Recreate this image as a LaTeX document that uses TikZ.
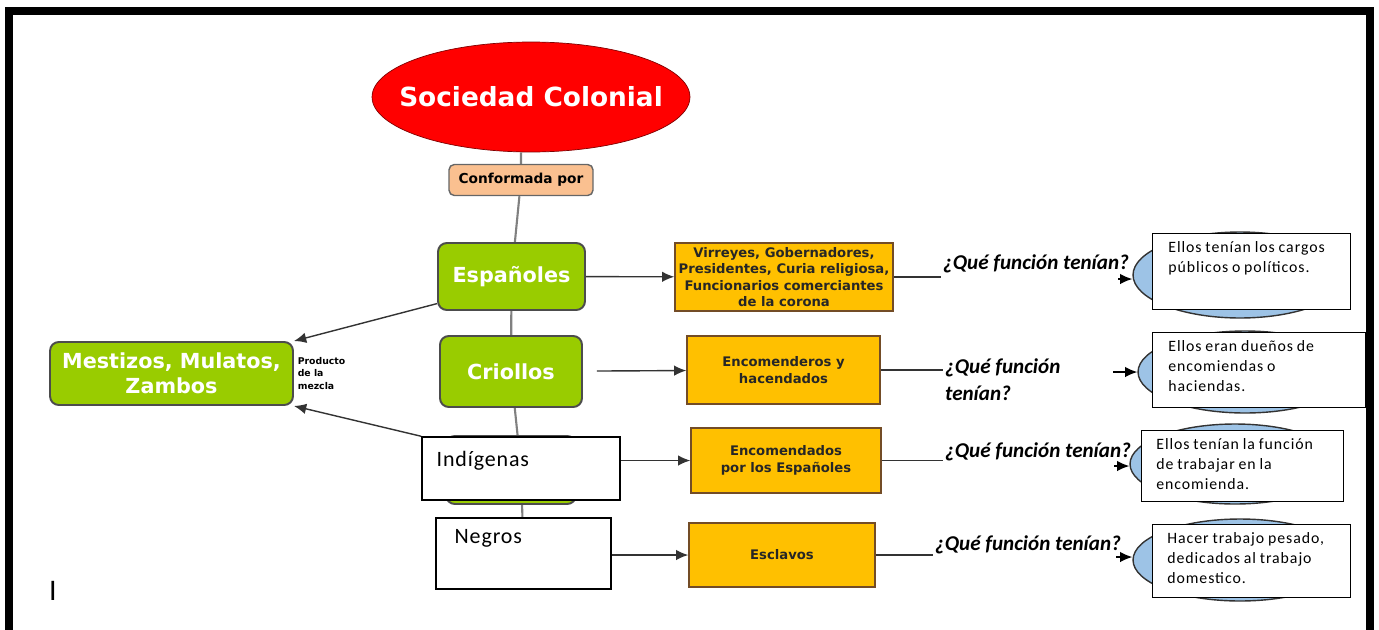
\documentclass[tikz,border=0pt]{standalone}
\usepackage{fontspec}
\newfontfamily\verd{DejaVu Sans}
\newfontfamily\cali{Carlito}
\newfontfamily\calisp[LetterSpace=6,WordSpace=0.85]{Carlito}
\newfontfamily\calind[LetterSpace=4]{Carlito}
\usepackage{tikz}
\usetikzlibrary{positioning,shapes.geometric,backgrounds,arrows.meta}
\usepackage{color}
\definecolor{rojo}{HTML}{FF0000}
\definecolor{verde}{HTML}{99CC00}
\definecolor{amarillo}{HTML}{FFC000}
\definecolor{durazno}{HTML}{FAC090}
\definecolor{celeste}{HTML}{9DC3E6}
\definecolor{linea}{HTML}{808080}
\tikzset{
	grupo/.style={draw=black!70, line width=1.1pt, fill=verde, rounded corners=5pt, text=white, font=\verd\bfseries\fontsize{11.8}{14}\selectfont, align=center},
	cargo/.style={draw=brown!60!black, line width=0.8pt, fill=amarillo, text=black!85, font=\verd\bfseries\fontsize{7.5}{9.4}\selectfont, align=center, inner sep=2pt},
	blanco/.style={draw, line width=0.8pt, fill=white},
	nota/.style={font=\calisp\fontsize{9}{11.4}\selectfont, align=left, inner sep=0pt},
	pregunta/.style={font=\cali\bfseries\itshape\fontsize{12}{15}\selectfont, align=left, inner sep=1pt},
	burbuja/.style={ellipse, draw=black!80, fill=celeste, line width=0.8pt},
}
\begin{document}
\begin{tikzpicture}[x=0.02cm, y=-0.02cm, node distance=2cm, >={Latex[length=7pt,width=6pt]}]
				\useasboundingbox (0,0) rectangle (1379,629);
				\draw[line width=0.17cm] (9,640) -- (9,11) -- (1370,11) -- (1370,640);
				\node (soc) [ellipse, draw=red!50!black, fill=rojo, minimum width=6.36cm, minimum height=2.2cm] at (531,97) {};
				\node (soct) [text=white, font=\verd\bfseries\fontsize{15}{17}\selectfont] at (soc) {Sociedad Colonial};
				\node (conf) [draw=black!60, line width=0.8pt, fill=durazno, rounded corners=3pt, minimum width=2.88cm, minimum height=0.62cm, font=\verd\bfseries\fontsize{7.8}{9}\selectfont] at (521,180) {Conformada por};
				\node (esp) [grupo, minimum width=2.94cm, minimum height=1.34cm] at (511.5,276.5) {Españoles};
				\node (cri) [grupo, minimum width=2.84cm, minimum height=1.42cm] at (511,371.5) {Criollos};
				\node (oculto) [grupo, minimum width=2.6cm, minimum height=1.36cm] at (511,470) {};
				\node (ind) [blanco, minimum width=3.96cm, minimum height=1.26cm] at (521,468.5) {};
				\node (indt) [below right=0.3cm and 0.3cm of ind.north west, anchor=north west, font=\calind\fontsize{12.5}{14}\selectfont, inner sep=0pt] {Indígenas};
				\node (neg) [blanco, minimum width=3.5cm, minimum height=1.42cm] at (523.5,553.5) {};
				\node (negt) [below right=0.24cm and 0.38cm of neg.north west, anchor=north west, font=\calind\fontsize{12.5}{14}\selectfont, inner sep=0pt] {Negros};
				\node (mez) [grupo, minimum width=4.86cm, minimum height=1.26cm, inner sep=1pt] at (171.5,373.5) {Mestizos, Mulatos,\\Zambos};
				\node (prod) [right=1pt of mez, font=\verd\bfseries\fontsize{5.3}{7}\selectfont, align=left, inner sep=1pt] {Producto\\de la\\mezcla};
				\node (y1) [cargo, minimum width=4.36cm, minimum height=1.36cm] at (784,277) {Virreyes, Gobernadores,\\Presidentes, Curia religiosa,\\Funcionarios comerciantes\\de la corona};
				\node (y2) [cargo, minimum width=3.86cm, minimum height=1.36cm] at (783.5,370) {Encomenderos y\\hacendados};
				\node (y3) [cargo, minimum width=3.8cm, minimum height=1.3cm] at (786,460.5) {Encomendados\\por los Españoles};
				\node (y4) [cargo, minimum width=3.72cm, minimum height=1.28cm] at (782,555) {Esclavos};
				\node (q1) [pregunta, anchor=west] at (941,264) {¿Qué función tenían?};
				\node (q2) [pregunta, anchor=north west] at (943,357) {¿Qué función\\tenían?};
				\node (q3) [pregunta, anchor=west] at (943,452) {¿Qué función tenían?};
				\node (q4) [pregunta, anchor=west] at (933,545) {¿Qué función tenían?};
				\node (e1) [burbuja, minimum width=4.28cm, minimum height=1.72cm] at (1240,275) {};
				\node (e2) [burbuja, minimum width=4.28cm, minimum height=1.64cm] at (1245,372) {};
				\node (e3) [burbuja, minimum width=4.2cm, minimum height=1.6cm] at (1235,464) {};
				\node (e4) [burbuja, minimum width=4.28cm, minimum height=1.64cm] at (1240,560) {};
				\node (b1) [blanco, anchor=north west, minimum width=3.96cm, minimum height=1.52cm] at (1152,233) {};
				\node (b2) [blanco, anchor=north west, minimum width=4.26cm, minimum height=1.5cm] at (1152,332) {};
				\node (b3) [blanco, anchor=north west, minimum width=4.04cm, minimum height=1.42cm] at (1141,430) {};
				\node (b4) [blanco, anchor=north west, minimum width=3.96cm, minimum height=1.46cm] at (1152,524) {};
				\node (b1t) [nota, below right=0.17cm and 0.32cm of b1.north west, anchor=north west] {Ellos tenían los cargos\\públicos o políticos.};
				\node (b2t) [nota, below right=0.17cm and 0.32cm of b2.north west, anchor=north west] {Ellos eran dueños de\\encomiendas o\\haciendas.};
				\node (b3t) [nota, below right=0.17cm and 0.3cm of b3.north west, anchor=north west] {Ellos tenían la función\\de trabajar en la\\encomienda.};
				\node (b4t) [nota, below right=0.17cm and 0.3cm of b4.north west, anchor=north west] {Hacer trabajo pesado,\\dedicados al trabajo\\domestico.};
				\node (marca) [font=\cali\fontsize{17}{19}\selectfont, inner sep=0pt] at (53,591) {I};
				\coordinate (a1) at (1118,279);
				\coordinate (a2) at (1113,372);
				\coordinate (a3) at (1114,466);
				\coordinate (a4) at (1116,557);
				\begin{scope}[on background layer]
					\draw[linea, line width=1.2pt] (conf |- soc.south) -- (conf) -- (esp) -- (cri) -- (ind) -- (neg);
					\draw[->, black!80, line width=0.8pt] (esp.200) to (mez.north east);
					\draw[->, black!80, line width=0.8pt] (ind.north west) to (mez.south east);
				\end{scope}
				\draw[->, black!80, line width=0.8pt](esp) to (y1);
				\draw[->, black!80, line width=0.8pt, shorten <=0.28cm](cri) to (y2);
				\draw[->, black!80, line width=0.8pt](ind.east |- y3.west) to (y3.west);
				\draw[->, black!80, line width=0.8pt](neg.east |- y4.west) to (y4.west);
				\draw[black!80, line width=0.8pt](y1.east) to (y1.east -| q1.west);
				\draw[black!80, line width=0.8pt](y2.east) to (y2.east -| q2.west);
				\draw[black!80, line width=0.8pt](y3.east) to (y3.east -| q3.west);
				\draw[black!80, line width=0.8pt](y4.east) to (y4.east -| q4.west);
				\draw[->, line width=0.8pt](a1) to (a1 -| e1.west);
				\draw[->, line width=0.8pt](a2) to (a2 -| e2.west);
				\draw[->, line width=0.8pt](a3) to (a3 -| e3.west);
				\draw[->, line width=0.8pt](a4) to (a4 -| e4.west);
			\end{tikzpicture}
\end{document}
